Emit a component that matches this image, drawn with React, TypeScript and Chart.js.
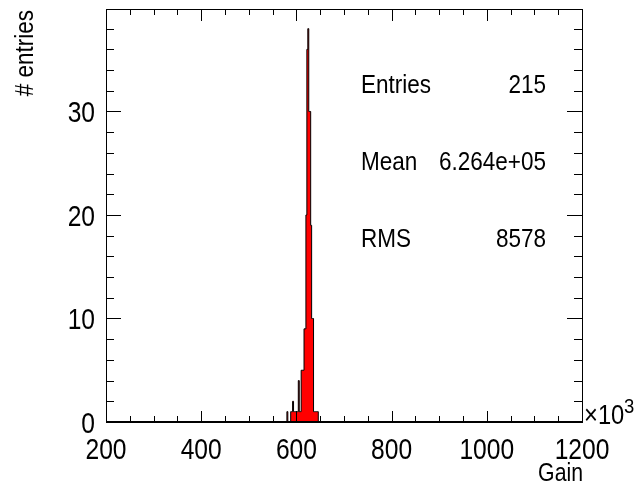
import React, { useEffect, useRef } from "react";
import { Chart, registerables } from "chart.js";

Chart.register(...registerables);

// Histogram bins (low edge, ×10^3) and counts
const binLow = [580, 582, 584, 586, 588, 590, 592, 594, 596, 598, 600, 602, 604, 606, 608, 610, 612, 614, 616, 618, 620, 622, 624, 626, 628, 630, 632, 634, 636, 638, 640, 642, 644, 646, 648];
const counts = [0, 1, 0, 0, 0, 1, 1, 2, 1, 1, 1, 1, 1, 4, 1, 1, 5, 5, 5, 9, 9, 20, 36, 38, 30, 30, 19, 10, 10, 1, 1, 1, 1, 1, 0];

const xTickLabels = [200, 400, 600, 800, 1000, 1200];
const yTickLabels = [0, 10, 20, 30];
const xMinorStep = 50;
const yMinorStep = 2;

const statNames = ["Entries", "Mean", "RMS"];
const statValues = ["215", "6.264e+05", "8578"];

const xTitle = "Gain";
const yTitle = "# entries";

const FONT = '"Liberation Sans", Arial, Helvetica, sans-serif';

function drawText(
  ctx: CanvasRenderingContext2D,
  s: string,
  x: number,
  y: number,
  size: number,
  align: CanvasTextAlign,
  sx: number,
  rot = 0
) {
  ctx.save();
  ctx.font = `${size}px ${FONT}`;
  ctx.fillStyle = "#000";
  ctx.textAlign = align;
  ctx.textBaseline = "alphabetic";
  ctx.translate(x, y);
  if (rot) ctx.rotate(rot);
  ctx.scale(sx, 1);
  ctx.fillText(s, 0, 0);
  ctx.restore();
}

const rootStyle = {
  id: "rootStyle",
  afterDraw(chart: any) {
    const ctx: CanvasRenderingContext2D = chart.ctx;
    const xs = chart.scales.x;
    const ys = chart.scales.y;
    const { left, right, top, bottom } = chart.chartArea;
    ctx.save();
    ctx.strokeStyle = "#000";
    ctx.lineWidth = 1;
    // frame
    ctx.beginPath();
    ctx.rect(Math.round(left) + 0.5, Math.round(top) + 0.5, Math.round(right - left), Math.round(bottom - top));
    ctx.stroke();
    ctx.lineWidth = 2;
    ctx.beginPath();
    ctx.moveTo(left, Math.round(bottom));
    ctx.lineTo(right + 1, Math.round(bottom));
    ctx.stroke();
    ctx.lineWidth = 1;

    const xMin = xs.min, xMax = xs.max;
    const yMin = ys.min, yMax = ys.max;
    // x ticks
    ctx.beginPath();
    for (let v = xMin; v <= xMax + 1e-6; v += xMinorStep) {
      const px = Math.round(xs.getPixelForValue(v)) + 0.5;
      const major = xTickLabels.includes(v);
      ctx.moveTo(px, bottom);
      ctx.lineTo(px, bottom - (major ? 11 : 6));
      ctx.moveTo(px, top);
      ctx.lineTo(px, top + (major ? 12 : 6));
    }
    // y ticks
    for (let v = yMin; v <= yMax + 1e-6; v += yMinorStep) {
      const py = Math.round(ys.getPixelForValue(v)) + 0.5;
      const major = v % 10 === 0;
      ctx.moveTo(left, py);
      ctx.lineTo(left + (major ? 15 : 8), py);
      ctx.moveTo(right, py);
      ctx.lineTo(right - (major ? 15 : 8), py);
    }
    ctx.stroke();
    ctx.restore();

    // tick labels
    for (const v of xTickLabels) {
      drawText(ctx, String(v), xs.getPixelForValue(v), 459, 30, "center", 0.82);
    }
    for (const v of yTickLabels) {
      drawText(ctx, String(v), 95, ys.getPixelForValue(v) + 11, 30, "right", 0.82);
    }
    // axis titles
    drawText(ctx, xTitle, 583, 481, 25, "right", 0.85);
    drawText(ctx, yTitle, 33, 10, 25, "right", 0.9, -Math.PI / 2);
    // exponent
    drawText(ctx, "\u00d710", 584, 424, 27, "left", 0.88);
    drawText(ctx, "3", 624, 413, 21, "left", 0.88);

    // statistics
    const baselines = [92.5, 170, 247];
    statNames.forEach((n, i) => {
      drawText(ctx, n, 361, baselines[i], 25, "left", 0.9);
      drawText(ctx, statValues[i], 546, baselines[i], 25, "right", 0.9);
    });
  },
};

export default function App() {
  const ref = useRef<HTMLCanvasElement | null>(null);
  useEffect(() => {
    document.body.style.margin = "0";
    const canvas = ref.current;
    if (!canvas) return;
    const pts = binLow.map((b, i) => ({ x: b, y: counts[i] }));
    const chart = new Chart(canvas, {
      type: "line",
      data: {
        datasets: [
          {
            data: pts,
            stepped: "after",
            fill: "origin",
            backgroundColor: "#ff0000",
            borderColor: "#000000",
            borderWidth: 1,
            pointRadius: 0,
            tension: 0,
          } as any,
        ],
      },
      options: {
        responsive: false,
        animation: false,
        maintainAspectRatio: false,
        layout: { padding: { left: 106, right: 54, top: 9, bottom: 61 } },
        plugins: { legend: { display: false }, tooltip: { enabled: false } },
        scales: {
          x: { type: "linear", min: 200, max: 1200, display: false },
          y: { type: "linear", min: 0, max: 39.9, display: false },
        },
      },
      plugins: [rootStyle],
    });
    return () => chart.destroy();
  }, []);
  return (
    <div style={{ position: "absolute", left: 0, top: 0, width: 636, height: 483, background: "#fff" }}>
      <canvas ref={ref} width={636} height={483} style={{ width: 636, height: 483 }} />
    </div>
  );
}
